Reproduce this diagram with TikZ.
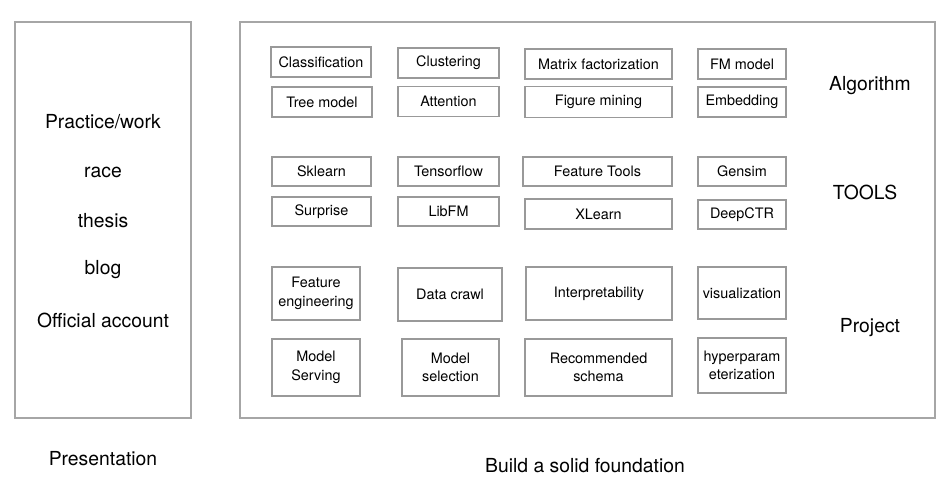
\documentclass[tikz,border=0pt]{standalone}
\usepackage{fontspec}
\setmainfont{TeX Gyre Heros}
\tikzset{
  marco/.style={draw=black!35, line width=1.1pt},
  caja/.style 2 args={draw=black!40, line width=0.9pt, inner sep=1pt, align=center,
    minimum width=#1*0.75pt, minimum height=#2*0.75pt,
    font=\fontsize{10.8}{13.8}\selectfont},
  grande/.style={font=\fontsize{14.5}{16}\selectfont},
}
\begin{document}
\begin{tikzpicture}[x=0.75pt, y=-0.75pt]
    \useasboundingbox (0,0) rectangle (946,499);

    % Marcos
    \draw[marco] (15,22) rectangle (191,418);
    \draw[marco] (240,22) rectangle (935,418);

    % Presentacion
    \node[grande] (pw) at (103,122) {Practice/work};
    \node[grande] (race) at (103,172) {race};
    \node[grande] (thesis) at (103,221) {thesis};
    \node[grande] (blog) at (103,270) {blog};
    \node[grande] (oa) at (103,320) {Official account};
    \node[grande] (pres) at (103,459) {Presentation};

    % Algorithm
    \node[caja={100}{30}] (cls) at (321,62) {Classification};
    \node[caja={101}{30}] (clu) at (448.5,63) {Clustering};
    \node[caja={147}{30}] (mat) at (598.5,64) {Matrix factorization};
    \node[caja={88}{30}] (fm) at (742,64) {FM model};
    \node[caja={100}{30}] (tree) at (322,102) {Tree model};
    \node[caja={101}{30}] (att) at (448.5,101.5) {Attention};
    \node[caja={147}{31}] (fig) at (598.5,102) {Figure mining};
    \node[caja={88}{30}] (emb) at (742,102) {Embedding};
    \node[grande] (alg) at (870,86) {Algorithm};

    % Tools
    \node[caja={99}{29}] (skl) at (321.5,171.5) {Sklearn};
    \node[caja={101}{29}] (tf) at (448.5,171.5) {Tensorflow};
    \node[caja={149}{29}] (ft) at (597.5,171.5) {Feature Tools};
    \node[caja={88}{29}] (gen) at (742,171.5) {Gensim};
    \node[caja={99}{29}] (sur) at (321.5,211.5) {Surprise};
    \node[caja={101}{29}] (lib) at (448.5,211.5) {LibFM};
    \node[caja={147}{30}] (xl) at (598.5,214) {XLearn};
    \node[caja={88}{29}] (dctr) at (742,214.5) {DeepCTR};
    \node[grande] (tools) at (865,192) {TOOLS};

    % Project
    \node[caja={88}{53}] (fe) at (316,293.5) {Feature\\engineering};
    \node[caja={104}{53}] (dc) at (450,294.5) {Data crawl};
    \node[caja={146}{53}] (interp) at (599,293.5) {Interpretability};
    \node[caja={88}{52}] (vis) at (742,293) {visualization};
    \node[caja={88}{57}] (ms) at (316,367.5) {Model\\Serving};
    \node[caja={97}{57}] (msel) at (450.5,367.5) {Model\\selection};
    \node[caja={147}{57}] (rec) at (598.5,367.5) {Recommended\\schema};
    \node[caja={88}{55}] (hyp) at (742,365.5) {hyperparam\\eterization};
    \node[grande] (proj) at (870,328) {Project};

    % Etiqueta de la base
    \node[grande] (base) at (585,466) {Build a solid foundation};

  \end{tikzpicture}
\end{document}
